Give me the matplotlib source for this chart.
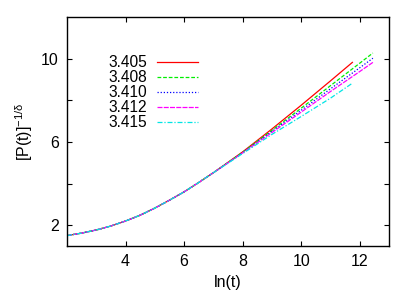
import matplotlib
matplotlib.use("Agg")
import matplotlib.pyplot as plt

plt.rcParams["font.family"] = ["Liberation Sans", "DejaVu Sans"]
plt.rcParams["mathtext.fontset"] = "custom"
plt.rcParams["mathtext.rm"] = "Liberation Sans"
plt.rcParams["mathtext.it"] = "Liberation Sans:italic"

# data
labels = ["3.405", "3.408", "3.410", "3.412", "3.415"]
x_common = [2.0, 2.5, 3.0, 3.5, 4.0, 4.5, 5.0, 5.5, 6.0, 6.5, 7.0]
y_common = [1.50, 1.62, 1.77, 1.96, 2.20, 2.48, 2.82, 3.20, 3.60, 4.05, 4.52]

x_tail_405 = [8.0, 9.0, 10.0, 11.0, 11.75]
y_tail_405 = [5.52, 6.62, 7.76, 8.93, 9.82]
x_tail_408 = [8.0, 9.0, 10.0, 11.0, 12.0, 12.45]
y_tail_408 = [5.50, 6.55, 7.62, 8.70, 9.78, 10.27]
x_tail_410 = [8.0, 9.0, 10.0, 11.0, 12.0, 12.45]
y_tail_410 = [5.48, 6.50, 7.52, 8.55, 9.56, 10.02]
x_tail_412 = [8.0, 9.0, 10.0, 11.0, 12.0, 12.45]
y_tail_412 = [5.47, 6.45, 7.43, 8.42, 9.38, 9.82]
x_tail_415 = [8.0, 9.0, 10.0, 11.0, 11.75]
y_tail_415 = [5.44, 6.36, 7.22, 8.10, 8.82]

tails = [(x_tail_405, y_tail_405), (x_tail_408, y_tail_408),
         (x_tail_410, y_tail_410), (x_tail_412, y_tail_412),
         (x_tail_415, y_tail_415)]
colors = ["#ff0000", "#00ee00", "#0000ff", "#ff00ff", "#00e5e5"]
styles = ["-", (0, (3, 1.5)), (0, (1, 1.5)), (0, (4, 1)), (0, (4, 1.5, 1, 1.5))]

fig = plt.figure(figsize=(4.15, 2.91), dpi=100)
ax = fig.add_axes([0.1614, 0.1546, 0.7759, 0.787])

for (xt, yt), lab, c, ls in zip(tails, labels, colors, styles):
    ax.plot(x_common + xt, y_common + yt, color=c, linestyle=ls, lw=0.9, label=lab)

ax.set_xlim(2, 13)
ax.set_ylim(1, 12)
ax.set_xticks([4, 6, 8, 10, 12])
ax.set_yticks([2, 4, 6, 8, 10])
ax.set_yticklabels(["2", "", "6", "", "10"])
ax.tick_params(direction="in", length=3.5, width=0.8, top=True, right=True,
               labelsize=11.5, pad=6)
for s in ax.spines.values():
    s.set_linewidth(1.0)
    s.set_color("black")

ax.set_xlabel("ln(t)", fontsize=11.5, labelpad=4)
ax.set_ylabel(r"$\mathregular{[P(t)]^{-1/\delta}}$", fontsize=11.5, labelpad=4)

ax.legend(loc="upper left", bbox_to_anchor=(0.105, 0.868), frameon=False,
          markerfirst=False, fontsize=11.2, handlelength=2.6,
          handletextpad=0.65, labelspacing=0.0, borderpad=0)

fig.savefig("out.png", dpi=100, facecolor="white")
